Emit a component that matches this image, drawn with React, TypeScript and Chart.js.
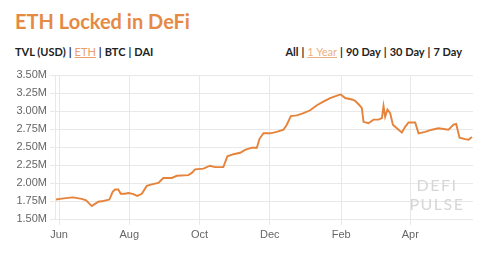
import React, { useEffect, useRef } from "react";
import { Chart, registerables } from "chart.js";

Chart.register(...registerables);

// Days since 1 Jun 2019
const dayOffsets = [
  -2.6, 0.9, 6, 12.2, 19.7, 23.5, 28.4, 31.3, 34.1, 38.5, 43.7, 46.7, 48.7, 51.5, 53.6, 57.3,
  60.2, 64, 68, 71.9, 76.2, 80.5, 86.3, 90.6, 97.9, 102.3, 112.3, 115.3, 118.2, 125.4, 131.2,
  135.5, 142.7, 146.2, 151.4, 157.3, 161.6, 167.4, 171.8, 174, 177.5, 183.3, 189.1, 194.9,
  197.8, 201.3, 206.5, 212.3, 218.1, 223.9, 229.6, 235.4, 242.7, 244.7, 248.5, 254.3, 257.2,
  260.9, 263, 264.4, 268.7, 273.1, 277.4, 280.4, 281.8, 283.2, 285.2, 287.6, 289.9, 293.4,
  297.7, 300.6, 303.5, 306.4, 309.3, 312.2, 318, 323.8, 329.5, 333.9, 338.2, 342.6, 344.9,
  347.8, 352.7, 355.6, 358.6,
];
// ETH locked, millions
const ethLockedM = [
  1.77, 1.78, 1.79, 1.8, 1.78, 1.76, 1.68, 1.71, 1.74, 1.75, 1.77, 1.88, 1.91, 1.91, 1.85, 1.85,
  1.86, 1.85, 1.82, 1.85, 1.96, 1.98, 2.0, 2.07, 2.07, 2.1, 2.11, 2.14, 2.19, 2.2, 2.24,
  2.22, 2.22, 2.37, 2.4, 2.42, 2.46, 2.49, 2.49, 2.61, 2.69, 2.69, 2.71, 2.74,
  2.81, 2.93, 2.94, 2.97, 3.01, 3.08, 3.13, 3.18, 3.22, 3.23, 3.18, 3.16, 3.14,
  3.08, 3.04, 2.85, 2.83, 2.88, 2.88, 2.9, 3.07, 2.92, 3.02, 2.97, 2.81, 2.76,
  2.7, 2.78, 2.84, 2.84, 2.84, 2.69, 2.71, 2.74, 2.76, 2.75, 2.74, 2.81, 2.82,
  2.63, 2.61, 2.6, 2.64,
];

const monthLabels = ["Jun", "Aug", "Oct", "Dec", "Feb", "Apr"];
const monthDays = [0, 61, 122, 183, 245, 305];
const yMin = 1.5;
const yMax = 3.5;
const yStep = 0.25;

const seriesTabs = ["TVL (USD)", "ETH", "BTC", "DAI"];
const activeSeries = "ETH";
const rangeTabs = ["All", "1 Year", "90 Day", "30 Day", "7 Day"];
const activeRange = "1 Year";

const ORANGE = "#e58a45";
const GRID = "#e8e8e8";

function Tabs({ items, active, activeColor }: { items: string[]; active: string; activeColor: string }) {
  return (
    <>
      {items.map((t, i) => (
        <React.Fragment key={t}>
          {i > 0 && <span style={{ margin: "0 3px" }}>|</span>}
          <span
            style={
              t === active
                ? { color: activeColor, textDecoration: "underline", fontWeight: 400 }
                : undefined
            }
          >
            {t}
          </span>
        </React.Fragment>
      ))}
    </>
  );
}

export default function App() {
  const ref = useRef<HTMLCanvasElement | null>(null);

  useEffect(() => {
    document.body.style.margin = "0";
    const canvas = ref.current!;
    const chart = new Chart(canvas, {
      type: "line",
      data: {
        datasets: [
          {
            data: dayOffsets.map((d, i) => ({ x: d, y: ethLockedM[i] })),
            borderColor: "#e6833b",
            borderWidth: 1.9,
            pointRadius: 0,
            tension: 0,
            fill: false,
          },
        ],
      },
      options: {
        animation: false,
        responsive: false,
        layout: { padding: { top: 75, right: 26, left: 0, bottom: 0 } },
        plugins: { legend: { display: false }, tooltip: { enabled: false } },
        scales: {
          x: {
            type: "linear",
            min: -3.5,
            max: 359.5,
            afterBuildTicks: (scale: any) => {
              scale.ticks = monthDays.map((v) => ({ value: v }));
            },
            afterFit: (scale: any) => {
              scale.height = 39;
            },
            ticks: {
              autoSkip: false,
              maxRotation: 0,
              color: "#666",
              font: { family: "'Liberation Sans', Arial, sans-serif", size: 11 },
              callback: (v: any) => monthLabels[monthDays.indexOf(Number(v))] ?? "",
            },
            grid: { color: GRID, tickLength: 6 },
            border: { display: false },
          },
          y: {
            min: yMin,
            max: yMax,
            afterFit: (scale: any) => {
              scale.width = 55;
            },
            ticks: {
              stepSize: yStep,
              color: "#666",
              padding: 3,
              font: { family: "'Liberation Sans', Arial, sans-serif", size: 11 },
              callback: (v: any) => Number(v).toFixed(2) + "M",
            },
            grid: { color: GRID, tickLength: 5 },
            border: { display: true, color: GRID },
          },
        },
      },
    });
    return () => chart.destroy();
  }, []);

  return (
    <div style={{ position: "relative", width: 499, height: 258, background: "#fff", overflow: "hidden" }}>
      <div
        style={{
          position: "absolute",
          left: 15,
          top: 11,
          fontFamily: "Lato, 'Open Sans', sans-serif",
          fontWeight: 700,
          fontSize: 20,
          lineHeight: "20px",
          color: ORANGE,
          whiteSpace: "nowrap",
        }}
      >
        ETH Locked in DeFi
      </div>
      <div
        style={{
          position: "absolute",
          left: 15,
          top: 45,
          fontFamily: "Lato, 'Open Sans', sans-serif",
          fontWeight: 700,
          fontSize: 11,
          lineHeight: "14px",
          color: "#222",
          whiteSpace: "nowrap",
        }}
      >
        <Tabs items={seriesTabs} active={activeSeries} activeColor="#e9a06b" />
      </div>
      <div
        style={{
          position: "absolute",
          right: 37,
          top: 45,
          fontFamily: "Lato, 'Open Sans', sans-serif",
          fontWeight: 700,
          fontSize: 11,
          lineHeight: "14px",
          color: "#222",
          whiteSpace: "nowrap",
        }}
      >
        <Tabs items={rangeTabs} active={activeRange} activeColor="#e9b183" />
      </div>
      <canvas ref={ref} width={499} height={258} style={{ position: "absolute", left: 0, top: 0 }} />
      <div
        style={{
          position: "absolute",
          left: 400,
          width: 74,
          top: 175,
          textAlign: "center",
          fontFamily: "Lato, 'Open Sans', sans-serif",
          fontSize: 16,
          lineHeight: "19px",
          letterSpacing: 1.5,
          color: "#d6d6d6",
          pointerEvents: "none",
        }}
      >
        DEFI
        <br />
        PULSE
      </div>
    </div>
  );
}
